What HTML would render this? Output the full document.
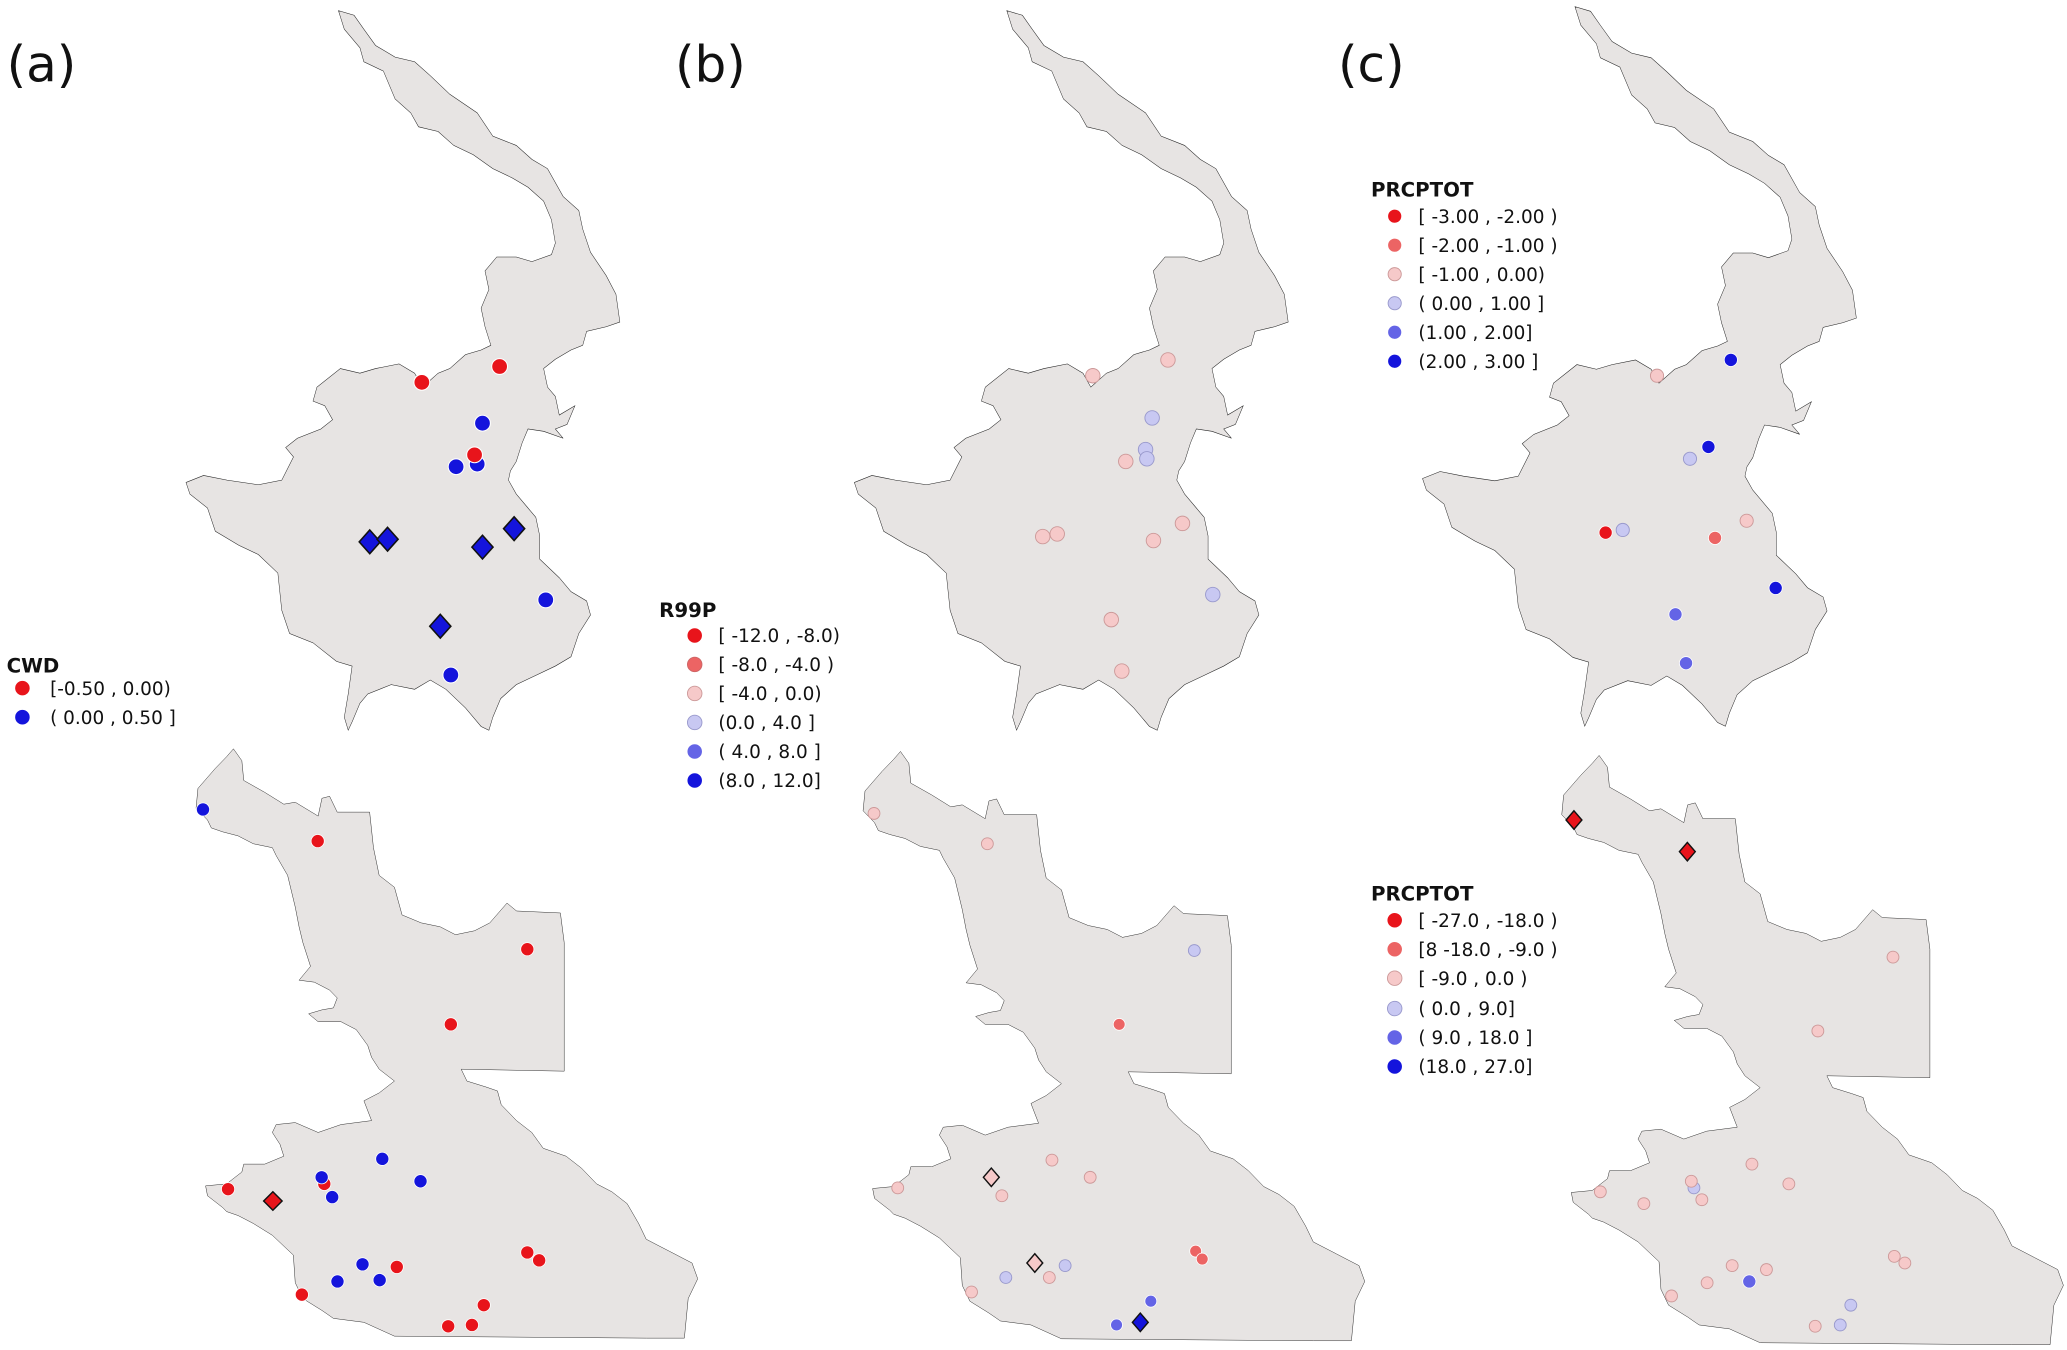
<!DOCTYPE html>
<html><head><meta charset="utf-8"><style>
html,body{margin:0;padding:0;background:#fff;}
svg{display:block;}
text{font-family:"DejaVu Sans","Liberation Sans",sans-serif;fill:#111;}
.lg{font-size:14px;}
.tt{font-size:15px;font-weight:bold;}
.pl{font-size:38px;}
</style></head><body>
<svg width="2067" height="1350" viewBox="0 0 1568 1024" preserveAspectRatio="none" xmlns="http://www.w3.org/2000/svg">
<defs>
<path id="top" d="M505,20 L545,30 570,60 600,95 650,120 700,130 740,160 790,200 860,240 900,290 960,310 1000,340 1040,360 1080,420 1120,450 1130,490 1150,540 1190,590 1215,630 1225,690 1190,700 1140,710 1130,740 1100,750 1060,770 1030,790 1040,830 1060,850 1070,890 1110,870 1090,910 1060,920 1080,940 1030,925 990,920 975,950 960,990 945,1010 940,1030 960,1060 990,1090 1010,1110 1020,1150 1020,1200 1070,1240 1100,1270 1140,1290 1150,1320 1120,1360 1100,1410 1060,1430 1010,1450 960,1470 920,1500 900,1540 890,1568 870,1560 830,1520 780,1480 740,1460 700,1480 640,1470 580,1490 560,1510 540,1550 530,1568 520,1540 530,1490 540,1430 500,1420 440,1380 380,1360 360,1310 350,1230 300,1190 250,1170 210,1150 190,1140 170,1090 125,1060 115,1035 160,1020 220,1030 300,1040 360,1030 390,980 370,960 400,940 460,920 490,900 470,870 440,860 450,830 510,790 560,800 600,790 660,780 700,800 720,830 760,800 790,790 830,760 870,750 895,740 880,700 870,660 890,620 880,580 910,550 960,550 1000,560 1050,545 1060,520 1050,470 1030,430 990,400 950,380 900,360 850,330 800,310 760,280 710,270 690,240 650,210 620,150 570,130 560,100 520,60 Z"/>
<path id="bot" d="M218,50 L240,80 245,130 300,160 350,190 380,185 440,220 450,175 470,170 490,210 575,210 585,300 600,370 640,400 660,470 710,490 760,500 800,520 850,510 890,490 935,440 960,460 1075,465 1085,540 1085,865 815,860 830,890 880,905 910,915 920,950 960,990 1000,1020 1030,1060 1090,1080 1130,1110 1170,1150 1210,1170 1250,1200 1280,1250 1300,1290 1360,1320 1420,1350 1435,1390 1410,1440 1400,1540 1300,1540 640,1535 560,1500 480,1490 450,1470 400,1440 380,1400 375,1330 320,1280 270,1250 230,1230 200,1220 190,1210 150,1180 145,1155 200,1150 240,1120 245,1100 300,1100 350,1080 340,1050 320,1020 330,1000 380,995 440,1020 500,1000 580,990 560,940 600,920 640,890 600,860 580,830 570,800 540,760 500,740 440,740 415,720 450,710 480,705 490,680 470,660 430,640 390,635 420,600 400,540 390,500 380,450 360,370 330,320 320,300 270,290 230,270 190,260 160,250 150,230 120,200 125,150 170,100 200,70 Z"/>
</defs>
<g fill="#e7e4e3" stroke="#222" stroke-width="1.2" vector-effect="non-scaling-stroke">
<use href="#top" transform="matrix(0.2965,0,0,0.3526,107,1)"/>
<use href="#top" transform="matrix(0.2965,0,0,0.3526,614,1)"/>
<use href="#top" transform="matrix(0.2965,0,0,0.3526,1045,-2)"/>
<use href="#bot" transform="matrix(0.2894,0,0,0.3,114,553)"/>
<use href="#bot" transform="matrix(0.2894,0,0,0.3,620,555)"/>
<use href="#bot" transform="matrix(0.2894,0,0,0.3,1150,558)"/>
</g>
<text class="pl" x="5" y="62">(a)</text>
<text class="pl" x="512" y="62">(b)</text>
<text class="pl" x="1015" y="62">(c)</text>

<!-- panel a top -->
<g stroke="#fff" stroke-width="0.8">
<circle cx="320" cy="290" r="6" fill="#e8141b"/><circle cx="379" cy="278" r="6" fill="#e8141b"/>
<circle cx="366" cy="321" r="6" fill="#1414dc"/><circle cx="346" cy="354" r="6" fill="#1414dc"/><circle cx="362" cy="352" r="6" fill="#1414dc"/>
<circle cx="360" cy="345" r="6" fill="#e8141b"/>
<circle cx="414" cy="455" r="6" fill="#1414dc"/><circle cx="342" cy="512" r="6" fill="#1414dc"/>
</g>
<g fill="#1414dc" stroke="#111" stroke-width="1.2">
<path d="M280.5,402 l8,9 -8,9 -8,-9z"/><path d="M294,400 l8,9 -8,9 -8,-9z"/><path d="M366,406 l8,9 -8,9 -8,-9z"/><path d="M390,392 l8,9 -8,9 -8,-9z"/><path d="M334,466 l8,9 -8,9 -8,-9z"/>
</g>
<!-- panel a bottom -->
<g stroke="#fff" stroke-width="0.6">
<circle cx="154" cy="614" r="5" fill="#1414dc"/><circle cx="290" cy="879" r="5" fill="#1414dc"/><circle cx="319" cy="896" r="5" fill="#1414dc"/>
<circle cx="241" cy="638" r="5" fill="#e8141b"/><circle cx="400" cy="720" r="5" fill="#e8141b"/><circle cx="342" cy="777" r="5" fill="#e8141b"/>
<circle cx="173" cy="902" r="5" fill="#e8141b"/><circle cx="246" cy="898" r="5" fill="#e8141b"/>
<circle cx="244" cy="893" r="5" fill="#1414dc"/><circle cx="252" cy="908" r="5" fill="#1414dc"/>
<circle cx="301" cy="961" r="5" fill="#e8141b"/><circle cx="400" cy="950" r="5" fill="#e8141b"/><circle cx="409" cy="956" r="5" fill="#e8141b"/>
<circle cx="229" cy="982" r="5" fill="#e8141b"/><circle cx="367" cy="990" r="5" fill="#e8141b"/><circle cx="340" cy="1006" r="5" fill="#e8141b"/><circle cx="358" cy="1005" r="5" fill="#e8141b"/>
<circle cx="275" cy="959" r="5" fill="#1414dc"/><circle cx="256" cy="972" r="5" fill="#1414dc"/><circle cx="288" cy="971" r="5" fill="#1414dc"/>
</g>
<path d="M207,904 l7,7 -7,7 -7,-7z" fill="#e8141b" stroke="#111" stroke-width="1.1"/>

<!-- panel b -->
<g stroke="#c99" stroke-width="0.7">
<circle cx="829" cy="285" r="5.5" fill="#f6c9c9"/><circle cx="886" cy="273" r="5.5" fill="#f6c9c9"/><circle cx="854" cy="350" r="5.5" fill="#f6c9c9"/>
<circle cx="791" cy="407" r="5.5" fill="#f6c9c9"/><circle cx="802" cy="405" r="5.5" fill="#f6c9c9"/><circle cx="875" cy="410" r="5.5" fill="#f6c9c9"/>
<circle cx="897" cy="397" r="5.5" fill="#f6c9c9"/><circle cx="843" cy="470" r="5.5" fill="#f6c9c9"/><circle cx="851" cy="509" r="5.5" fill="#f6c9c9"/>
<circle cx="663" cy="617" r="4.5" fill="#f6c9c9"/><circle cx="749" cy="640" r="4.5" fill="#f6c9c9"/><circle cx="798" cy="880" r="4.5" fill="#f6c9c9"/>
<circle cx="827" cy="893" r="4.5" fill="#f6c9c9"/><circle cx="760" cy="907" r="4.5" fill="#f6c9c9"/><circle cx="737" cy="980" r="4.5" fill="#f6c9c9"/>
<circle cx="796" cy="969" r="4.5" fill="#f6c9c9"/><circle cx="681" cy="901" r="4.5" fill="#f6c9c9"/>
</g>
<g stroke="#99c" stroke-width="0.7">
<circle cx="874" cy="317" r="5.5" fill="#c8c8f2"/><circle cx="869" cy="341" r="5.5" fill="#c8c8f2"/><circle cx="870" cy="348" r="5.5" fill="#c8c8f2"/><circle cx="920" cy="451" r="5.5" fill="#c8c8f2"/>
<circle cx="763" cy="969" r="4.5" fill="#c8c8f2"/><circle cx="808" cy="960" r="4.5" fill="#c8c8f2"/><circle cx="906" cy="721" r="4.5" fill="#c8c8f2"/>
</g>
<g stroke="#fff" stroke-width="0.6">
<circle cx="849" cy="777" r="4.5" fill="#ec6464"/><circle cx="907" cy="949" r="4.5" fill="#ec6464"/><circle cx="912" cy="955" r="4.5" fill="#ec6464"/>
<circle cx="873" cy="987" r="4.5" fill="#6464e6"/><circle cx="847" cy="1005" r="4.5" fill="#6464e6"/>
</g>
<g stroke="#111" stroke-width="1.1">
<path d="M752,886 l6,7 -6,7 -6,-7z" fill="#f6c9c9"/><path d="M785,951 l6,7 -6,7 -6,-7z" fill="#f6c9c9"/><path d="M865,996 l6,7 -6,7 -6,-7z" fill="#1414dc"/>
</g>

<!-- panel c -->
<g stroke="#fff" stroke-width="0.6">
<circle cx="1218" cy="404" r="5" fill="#e8141b"/><circle cx="1301" cy="408" r="5" fill="#ec6464"/>
<circle cx="1313" cy="273" r="5" fill="#1414dc"/><circle cx="1296" cy="339" r="5" fill="#1414dc"/><circle cx="1347" cy="446" r="5" fill="#1414dc"/>
<circle cx="1271" cy="466" r="5" fill="#6464e6"/><circle cx="1279" cy="503" r="5" fill="#6464e6"/><circle cx="1327" cy="972" r="5" fill="#6464e6"/>
</g>
<g stroke="#99c" stroke-width="0.7">
<circle cx="1282" cy="348" r="5" fill="#c8c8f2"/><circle cx="1231" cy="402" r="5" fill="#c8c8f2"/>
<circle cx="1285" cy="901" r="4.5" fill="#c8c8f2"/><circle cx="1404" cy="990" r="4.5" fill="#c8c8f2"/><circle cx="1396" cy="1005" r="4.5" fill="#c8c8f2"/>
</g>
<g stroke="#c99" stroke-width="0.7">
<circle cx="1257" cy="285" r="5" fill="#f6c9c9"/><circle cx="1325" cy="395" r="5" fill="#f6c9c9"/>
<circle cx="1436" cy="726" r="4.5" fill="#f6c9c9"/><circle cx="1379" cy="782" r="4.5" fill="#f6c9c9"/><circle cx="1214" cy="904" r="4.5" fill="#f6c9c9"/>
<circle cx="1247" cy="913" r="4.5" fill="#f6c9c9"/><circle cx="1329" cy="883" r="4.5" fill="#f6c9c9"/><circle cx="1357" cy="898" r="4.5" fill="#f6c9c9"/>
<circle cx="1283" cy="896" r="4.5" fill="#f6c9c9"/><circle cx="1291" cy="910" r="4.5" fill="#f6c9c9"/>
<circle cx="1314" cy="960" r="4.5" fill="#f6c9c9"/><circle cx="1340" cy="963" r="4.5" fill="#f6c9c9"/><circle cx="1295" cy="973" r="4.5" fill="#f6c9c9"/><circle cx="1268" cy="983" r="4.5" fill="#f6c9c9"/>
<circle cx="1377" cy="1006" r="4.5" fill="#f6c9c9"/><circle cx="1437" cy="953" r="4.5" fill="#f6c9c9"/><circle cx="1445" cy="958" r="4.5" fill="#f6c9c9"/>
</g>
<g stroke="#111" stroke-width="1.1" fill="#e8141b">
<path d="M1194,615 l6,7 -6,7 -6,-7z"/><path d="M1280,639 l6,7 -6,7 -6,-7z"/>
</g>

<!-- legends -->
<text class="tt" x="5" y="510">CWD</text>
<circle cx="17" cy="522" r="5.5" fill="#e8141b"/><text class="lg" x="38" y="527">[-0.50 , 0.00)</text>
<circle cx="17" cy="544" r="5.5" fill="#1414dc"/><text class="lg" x="38" y="549">( 0.00 , 0.50 ]</text>

<text class="tt" x="500" y="468">R99P</text>
<circle cx="527" cy="482" r="5.5" fill="#e8141b"/><text class="lg" x="545" y="487">[ -12.0 , -8.0)</text>
<circle cx="527" cy="504" r="5.5" fill="#ec6464" stroke="#c66" stroke-width="0.7"/><text class="lg" x="545" y="509">[ -8.0 , -4.0 )</text>
<circle cx="527" cy="526" r="5.5" fill="#f6c9c9" stroke="#c99" stroke-width="0.7"/><text class="lg" x="545" y="531">[ -4.0 , 0.0)</text>
<circle cx="527" cy="548" r="5.5" fill="#c8c8f2" stroke="#99c" stroke-width="0.7"/><text class="lg" x="545" y="553"> (0.0 , 4.0 ]</text>
<circle cx="527" cy="570" r="5.5" fill="#6464e6"/><text class="lg" x="545" y="575">( 4.0 , 8.0 ]</text>
<circle cx="527" cy="592" r="5.5" fill="#1414dc"/><text class="lg" x="545" y="597"> (8.0 , 12.0]</text>

<text class="tt" x="1040" y="149">PRCPTOT</text>
<circle cx="1058" cy="164" r="5" fill="#e8141b"/><text class="lg" x="1076" y="169">[ -3.00 , -2.00 )</text>
<circle cx="1058" cy="186" r="5" fill="#ec6464"/><text class="lg" x="1076" y="191">[ -2.00 , -1.00 )</text>
<circle cx="1058" cy="208" r="5" fill="#f6c9c9" stroke="#c99" stroke-width="0.7"/><text class="lg" x="1076" y="213">[ -1.00 , 0.00)</text>
<circle cx="1058" cy="230" r="5" fill="#c8c8f2" stroke="#99c" stroke-width="0.7"/><text class="lg" x="1076" y="235">( 0.00 , 1.00 ]</text>
<circle cx="1058" cy="252" r="5" fill="#6464e6"/><text class="lg" x="1076" y="257"> (1.00 , 2.00]</text>
<circle cx="1058" cy="274" r="5" fill="#1414dc"/><text class="lg" x="1076" y="279"> (2.00 , 3.00 ]</text>

<text class="tt" x="1040" y="683">PRCPTOT</text>
<circle cx="1058" cy="698" r="5.5" fill="#e8141b"/><text class="lg" x="1076" y="703">[ -27.0 , -18.0 )</text>
<circle cx="1058" cy="720" r="5.5" fill="#ec6464"/><text class="lg" x="1076" y="725">[8 -18.0 , -9.0 )</text>
<circle cx="1058" cy="742" r="5.5" fill="#f6c9c9" stroke="#c99" stroke-width="0.7"/><text class="lg" x="1076" y="747">[ -9.0 , 0.0 )</text>
<circle cx="1058" cy="765" r="5.5" fill="#c8c8f2" stroke="#99c" stroke-width="0.7"/><text class="lg" x="1076" y="770"> ( 0.0 , 9.0]</text>
<circle cx="1058" cy="787" r="5.5" fill="#6464e6"/><text class="lg" x="1076" y="792">( 9.0 , 18.0 ]</text>
<circle cx="1058" cy="809" r="5.5" fill="#1414dc"/><text class="lg" x="1076" y="814"> (18.0 , 27.0]</text>
</svg>
</body></html>
